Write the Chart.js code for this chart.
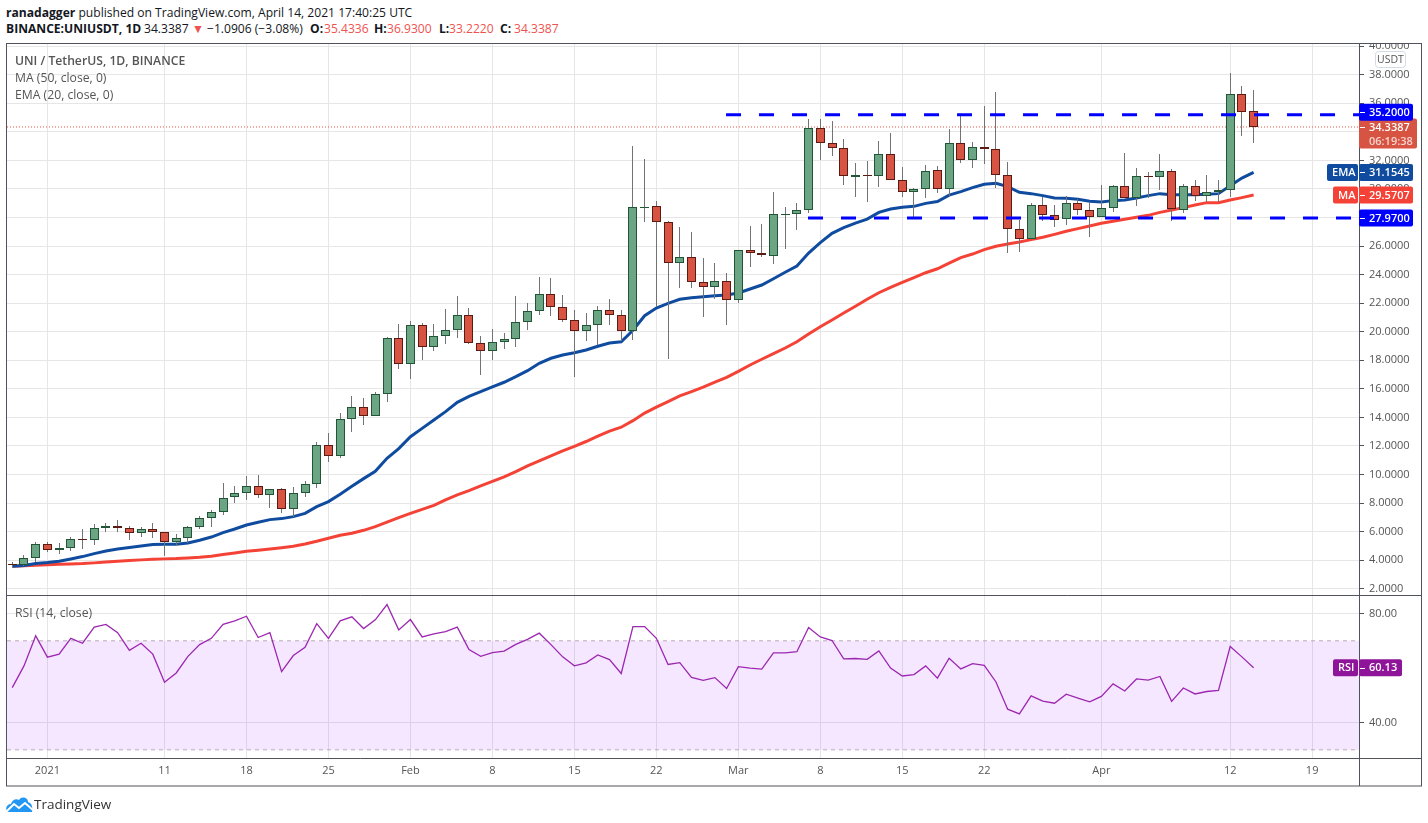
<!DOCTYPE html>
<html>
<head>
<meta charset="utf-8">
<title>UNI / TetherUS</title>
<script src="https://cdn.jsdelivr.net/npm/chart.js@4/dist/chart.umd.min.js"></script>
<style>
  html, body { margin: 0; padding: 0; background: #fff; }
  body { width: 1428px; height: 823px; position: relative; overflow: hidden; font-family: "Open Sans", sans-serif; }
  canvas { position: absolute; left: 0; top: 0; }
  .t { position: absolute; white-space: nowrap; line-height: 16px; font-size: 12.1px; color: #131722; z-index: 3; }
  .r { color: #ef5350; }
  .g { color: #555; font-size: 12.2px; }
  #strip { position: absolute; left: 0; top: 0; width: 1428px; height: 43px; background: #fff; z-index: 2; }
  #logo { position: absolute; left: 6px; top: 796px; z-index: 3; }
</style>
</head>
<body>
<canvas id="chart" width="1428" height="823"></canvas>
<div id="strip"></div>
<div class="t" style="left:6px;top:5px"><b>ranadagger</b> published on TradingView.com, April 14, 2021 17:40:25 UTC</div>
<div class="t" style="left:6px;top:21px"><b>BINANCE:UNIUSDT, 1D</b></div>
<div class="t" style="left:144px;top:21px">34.3387</div>
<div class="t r" style="left:192px;top:21px">▼</div>
<div class="t" style="left:207px;top:21px">−1.0906 (−3.08%)</div>
<div class="t" style="left:310px;top:21px"><b>O:</b></div>
<div class="t r" style="left:324px;top:21px">35.4336</div>
<div class="t" style="left:374px;top:21px"><b>H:</b></div>
<div class="t r" style="left:387px;top:21px">36.9300</div>
<div class="t" style="left:439px;top:21px"><b>L:</b></div>
<div class="t r" style="left:449px;top:21px">33.2220</div>
<div class="t" style="left:500px;top:21px"><b>C:</b></div>
<div class="t r" style="left:514px;top:21px">34.3387</div>
<div class="t g" style="left:15px;top:53px;font-weight:600">UNI / TetherUS, 1D, BINANCE</div>
<div class="t g" style="left:15px;top:70px">MA (50, close, 0)</div>
<div class="t g" style="left:15px;top:87px">EMA (20, close, 0)</div>
<div class="t g" style="left:15px;top:605px">RSI (14, close)</div>
<svg id="logo" width="27" height="17" viewBox="0 0 27 17">
  <path d="M1 16 C-1 12 1 8 5 8 C6 4 10 2 13 4 C15 0 22 1 22 6 C26 7 27 12 26 16 Z" fill="#2196f3"/>
  <path d="M0 16 L8 8 L13 12 L19 7 L27 14" fill="none" stroke="#fff" stroke-width="2"/>
</svg>
<div class="t" style="left:34px;top:796px;font-size:13.5px;color:#333">TradingView</div>
<script>
// days since Dec 29 2020, one candle a day
var opens = [
  3.72,3.64,4.15,5.13,4.69,4.85,5.48,5.41,6.25,6.39,
  6.25,5.9,6.16,5.97,5.27,5.55,6.32,6.95,7.37,8.4,
  8.7,9.2,8.57,8.98,7.58,8.7,9.33,12.07,11.3,13.89,
  14.73,14.1,15.64,19.56,17.74,20.47,18.93,19.7,20.12,21.17,
  19.21,18.65,19.28,19.49,20.68,21.45,22.64,21.73,20.82,20.05,
  20.47,21.52,21.17,20.05,28.73,28.8,27.68,24.81,25.23,23.48,
  23.13,23.55,22.22,25.72,25.51,25.3,28.24,28.24,28.52,34.29,
  33.22,32.87,30.81,30.97,30.9,32.45,30.62,29.78,30.0,31.32,
  30.0,33.21,32.02,32.93,32.79,30.97,27.19,26.49,28.87,28.17,
  27.89,29.01,28.52,28.03,28.66,30.2,29.36,30.9,30.83,31.25,
  28.52,30.2,29.5,29.78,29.92,36.65,35.4336
];
var highs = [
  3.87,4.39,5.3,5.27,5.2,5.65,6.2,6.56,6.63,6.84,
  6.39,6.32,6.6,5.99,5.83,6.39,7.1,7.5,9.43,9.22,
  9.92,9.99,9.0,9.05,9.15,9.57,12.3,12.93,14.33,15.52,
  15.38,15.8,19.65,20.56,20.77,20.63,20.56,21.61,22.52,21.68,
  19.72,20.21,19.93,22.52,22.03,23.86,23.78,22.59,21.54,21.33,
  21.82,22.31,21.54,33.03,32.12,29.18,27.75,27.36,27.0,25.16,
  24.81,24.13,25.75,27.43,27.57,29.81,28.76,29.04,34.92,34.92,
  34.78,33.52,31.84,31.98,33.38,33.94,31.56,30.06,31.7,31.63,
  34.22,35.18,33.31,35.83,36.81,31.91,27.82,29.04,29.43,28.87,
  29.5,29.29,29.01,30.3,30.3,32.54,31.49,31.21,32.47,31.42,
  30.37,30.65,30.98,30.65,38.14,37.23,36.93
];
var lows = [
  3.5,3.6,3.87,4.55,4.46,4.62,4.81,5.09,5.95,6.0,
  5.39,5.6,5.53,4.3,4.97,5.23,6.16,6.3,7.14,7.98,
  8.24,8.38,7.63,7.28,7.0,8.45,9.08,10.85,11.13,13.0,
  13.44,14.08,15.05,17.37,16.67,17.99,18.63,19.12,19.58,19.12,
  16.99,18.04,18.77,18.95,20.1,21.19,21.12,20.66,16.8,19.33,
  19.09,20.49,19.33,19.44,27.66,21.71,18.07,23.04,23.04,21.05,
  22.27,20.45,21.99,24.51,25.21,24.72,25.77,27.1,28.29,32.0,
  32.28,30.25,29.46,29.11,30.16,30.6,29.46,27.96,29.39,29.69,
  29.41,31.79,31.44,31.72,30.04,25.49,25.56,26.47,27.73,27.31,
  27.45,28.17,26.61,28.01,28.36,29.34,28.83,29.36,29.92,27.73,
  28.29,29.18,29.08,29.08,29.46,33.73,33.222
];
var closes = [
  3.69,4.15,5.13,4.71,4.88,5.48,5.42,6.25,6.39,6.25,
  5.9,6.16,5.97,5.27,5.55,6.32,6.95,7.37,8.35,8.7,
  9.2,8.57,8.98,7.58,8.7,9.33,12.07,11.3,13.89,14.73,
  14.1,15.64,19.56,17.74,20.47,18.91,19.7,20.12,21.17,19.21,
  18.65,19.28,19.49,20.68,21.45,22.64,21.71,20.82,20.05,20.47,
  21.52,21.17,20.05,28.73,28.75,27.68,24.81,25.23,23.48,23.13,
  23.55,22.22,25.72,25.51,25.37,28.24,28.26,28.52,34.29,33.22,
  32.87,30.9,30.97,30.88,32.45,30.62,29.78,30.0,31.25,30.0,
  33.21,32.02,32.93,32.79,30.97,27.19,26.49,28.87,28.17,27.82,
  29.01,28.52,28.03,28.66,30.2,29.36,30.9,30.81,31.25,28.59,
  30.2,29.5,29.78,29.92,36.65,35.36,34.3387
];
var ema20 = [
  3.57,3.62,3.76,3.83,3.92,4.08,4.25,4.46,4.64,4.78,
  4.88,4.99,5.09,5.11,5.11,5.2,5.39,5.62,5.93,6.18,
  6.46,6.65,6.84,6.91,7.05,7.28,7.75,8.1,8.62,9.17,
  9.71,10.22,11.13,11.81,12.65,13.23,13.82,14.4,15.05,15.47,
  15.8,16.13,16.46,16.85,17.27,17.79,18.14,18.37,18.53,18.72,
  18.98,19.21,19.3,20.1,21.12,21.66,21.99,22.27,22.38,22.45,
  22.52,22.57,22.71,22.99,23.27,23.71,24.16,24.6,25.51,26.24,
  26.89,27.29,27.61,27.89,28.36,28.59,28.71,28.78,28.99,29.12,
  29.57,29.81,30.09,30.32,30.39,30.16,29.76,29.67,29.53,29.36,
  29.34,29.27,29.13,29.08,29.18,29.22,29.36,29.53,29.67,29.6,
  29.6,29.6,29.62,29.67,30.23,30.76,31.1545
];
var ma50 = [
  3.57,3.6,3.64,3.67,3.71,3.73,3.76,3.81,3.87,3.92,
  3.97,4.02,4.06,4.09,4.11,4.15,4.2,4.28,4.39,4.5,
  4.62,4.7,4.78,4.87,4.97,5.13,5.32,5.53,5.74,5.88,
  6.09,6.35,6.67,6.98,7.28,7.56,7.84,8.22,8.57,8.87,
  9.2,9.52,9.83,10.2,10.6,10.96,11.3,11.65,11.97,12.31,
  12.68,13.04,13.31,13.77,14.3,14.72,15.1,15.5,15.8,16.12,
  16.47,16.8,17.22,17.67,18.07,18.46,18.86,19.3,19.84,20.35,
  20.82,21.31,21.78,22.27,22.73,23.11,23.46,23.79,24.13,24.41,
  24.8,25.19,25.44,25.75,25.98,26.14,26.28,26.45,26.61,26.82,
  27.03,27.22,27.4,27.59,27.73,27.87,28.01,28.15,28.36,28.52,
  28.69,28.87,29.04,29.04,29.22,29.39,29.5707
];
var rsi14 = [
  52.8,60.8,71.8,64,65.1,70.9,69.1,75,76,73,
  66.5,69.1,65.1,54.8,58.2,64.3,68.6,70.9,76,77.3,
  79,71.2,73,58.7,64.6,67.6,76.3,70.9,77.3,78.8,
  74.5,77.7,83.3,74,77.8,71.4,72.5,73.4,75,66.8,
  64.3,65.7,66.2,68.7,70.5,72.8,68.6,64.1,60.8,61.9,
  64.8,63.1,58,75.2,75.2,70.9,61.3,62,56.6,55.5,
  56.5,52.5,60.5,60,59.6,65.6,65.6,66,74.9,71.4,
  70.1,63.4,63.5,63.2,66.3,60,57.1,57.6,60.8,56.3,
  63.6,59.7,61.6,61,54.9,44.9,43.2,49.8,47.9,47.1,
  50.4,49,47.6,49.6,54.2,51.6,56,55.6,56.9,47.8,
  52.7,50.5,51.4,51.8,67.9,64.1,60.13
];
var priceTicks = [2,4,6,8,10,12,14,16,18,20,22,24,26,28,30,32,34,36,38,40];
var rsiTicks = [40,80];
var timeTickDays = [3,13,20,27,34,41,48,55,62,69,76,83,93,104,111];
var timeTickLabels = ['2021','11','18','25','Feb','8','15','22','Mar','8','15','22','Apr','12','19'];
var resistance = 35.2;
var support = 27.97;
var rsiUpper = 70;
var rsiLower = 30;

var xMin = -0.45, xMax = 115;
var last = closes.length - 1;
var upColor = '#6ba583', downColor = '#d75442';
var upBorder = '#225437', downBorder = '#5b1a13';
var font = '"Open Sans", sans-serif';

function series(arr) {
  return arr.map(function (v, i) { return {x: i, y: v}; });
}
function hline(v, from) {
  return [{x: from, y: v}, {x: xMax, y: v}];
}
function isUp(i) { return closes[i] >= opens[i]; }

// keep candles crisp, still placed by the scales
var snapBars = {
  id: 'snapBars',
  beforeDatasetsDraw: function (chart) {
    chart.data.datasets.forEach(function (ds, k) {
      if (ds.type !== 'bar') return;
      chart.getDatasetMeta(k).data.forEach(function (el) {
        el.x = Math.floor(el.x) + 0.5;
        var top = Math.round(el.y), bottom = Math.round(el.base);
        if (top === bottom) bottom = top + 1;
        el.y = top;
        el.base = bottom;
      });
    });
  }
};

function tag(ctx, x0, x1, y0, y1, bg) {
  ctx.fillStyle = bg;
  ctx.beginPath();
  ctx.roundRect(x0, y0, x1 - x0, y1 - y0, 2);
  ctx.fill();
}
function axisTag(ctx, yc, right, bg, text, sideText, sideLeft) {
  var y0 = yc - 8.5, y1 = yc + 8.5, ax = 1359;
  tag(ctx, ax, right, y0, y1, bg);
  ctx.fillStyle = '#fff';
  ctx.fillRect(ax + 1, Math.round(yc), 5, 1);
  ctx.font = '600 11px ' + font;
  ctx.textAlign = 'left';
  ctx.textBaseline = 'middle';
  ctx.fillText(text, 1369, yc + 0.5);
  if (sideText) {
    tag(ctx, sideLeft, ax - 1, y0, y1, bg);
    ctx.fillStyle = '#fff';
    ctx.fillText(sideText, sideLeft + 5, yc + 0.5);
  }
}

var overlays = {
  id: 'overlays',
  afterDraw: function (chart) {
    var ctx = chart.ctx, p = chart.scales.price, r = chart.scales.rsi;
    ctx.save();
    // pane frame
    ctx.strokeStyle = '#50535e';
    ctx.lineWidth = 1;
    ctx.strokeRect(6.5, 43.5, 1415, 742.5);
    ctx.beginPath();
    ctx.moveTo(1359.5, 43.5); ctx.lineTo(1359.5, 786);
    ctx.moveTo(6.5, 595.5); ctx.lineTo(1421.5, 595.5);
    ctx.moveTo(6.5, 758.5); ctx.lineTo(1421.5, 758.5);
    ctx.stroke();

    // currency chip
    ctx.fillStyle = '#fff';
    ctx.strokeStyle = '#d5d8e5';
    ctx.beginPath();
    ctx.roundRect(1375.5, 51.5, 30, 16, 3);
    ctx.fill();
    ctx.stroke();
    ctx.fillStyle = '#555';
    ctx.font = '10.5px ' + font;
    ctx.textAlign = 'center';
    ctx.textBaseline = 'middle';
    ctx.fillText('USDT', 1390.5, 60);

    // price tags, the first one sits a little above its line as in the original
    var lastY = p.getPixelForValue(closes[last]);
    tag(ctx, 1359, 1417, lastY - 8.5, lastY + 21.5, downColor);
    ctx.fillStyle = '#fff';
    ctx.fillRect(1360, Math.round(lastY), 5, 1);
    ctx.font = '600 11px ' + font;
    ctx.textAlign = 'left';
    ctx.textBaseline = 'middle';
    ctx.fillText(closes[last].toFixed(4), 1369, lastY + 0.5);
    ctx.fillStyle = 'rgba(255,255,255,0.75)';
    ctx.fillText('06:19:38', 1369, lastY + 14.5);

    axisTag(ctx, p.getPixelForValue(resistance) - 2.5, 1413, '#0000ff', resistance.toFixed(4));
    axisTag(ctx, p.getPixelForValue(ema20[last]), 1413, '#0f4c9f', ema20[last].toFixed(4), 'EMA', 1327);
    axisTag(ctx, p.getPixelForValue(ma50[last]), 1413, '#f44336', ma50[last].toFixed(4), 'MA', 1333);
    axisTag(ctx, p.getPixelForValue(support), 1413, '#0000ff', support.toFixed(4));
    axisTag(ctx, r.getPixelForValue(rsi14[last]), 1402, '#8e1599', rsi14[last].toFixed(2), 'RSI', 1333);
    ctx.restore();
  }
};

var wickData = series(highs).map(function (d, i) { return {x: i, y: [lows[i], highs[i]]}; });
var bodyData = series(opens).map(function (d, i) { return {x: i, y: [opens[i], closes[i]]}; });

new Chart(document.getElementById('chart'), {
  type: 'bar',
  plugins: [snapBars, overlays],
  data: {
    datasets: [
      {type: 'line', data: hline(rsiUpper, xMin), yAxisID: 'rsi', order: 12, borderColor: '#b9aabb', borderWidth: 1,
        borderDash: [4, 4], pointRadius: 0, fill: {target: '+1', above: 'rgba(153,21,255,0.1)', below: 'rgba(153,21,255,0.1)'}},
      {type: 'line', data: hline(rsiLower, xMin), yAxisID: 'rsi', order: 11, borderColor: '#b9aabb', borderWidth: 1,
        borderDash: [4, 4], pointRadius: 0},
      {type: 'line', data: series(rsi14), yAxisID: 'rsi', order: 10, borderColor: '#9c27b0', borderWidth: 1.3, pointRadius: 0},
      {type: 'line', data: hline(closes[last], xMin), yAxisID: 'price', order: 9, borderColor: '#e8553f', borderWidth: 1,
        borderDash: [1, 2], pointRadius: 0},
      {type: 'line', data: series(ma50), yAxisID: 'price', order: 8, borderColor: '#f44336', borderWidth: 3, pointRadius: 0},
      {type: 'line', data: series(ema20), yAxisID: 'price', order: 7, borderColor: '#0f4c9f', borderWidth: 3, pointRadius: 0},
      {type: 'bar', data: wickData, yAxisID: 'price', order: 5, grouped: false, barThickness: 1, inflateAmount: 0,
        backgroundColor: '#737375', borderWidth: 0},
      {type: 'bar', data: bodyData, yAxisID: 'price', order: 4, grouped: false, barThickness: 9, inflateAmount: 0, borderSkipped: false,
        backgroundColor: closes.map(function (c, i) { return isUp(i) ? upColor : downColor; }),
        borderColor: closes.map(function (c, i) { return isUp(i) ? upBorder : downBorder; }),
        borderWidth: 1},
      {type: 'line', data: hline(resistance, 60.95), yAxisID: 'price', order: 1, borderColor: '#0000ff', borderWidth: 3,
        borderDash: [15, 18], pointRadius: 0},
      {type: 'line', data: hline(support, 67.95), yAxisID: 'price', order: 1, borderColor: '#0000ff', borderWidth: 3,
        borderDash: [15, 18], pointRadius: 0}
    ]
  },
  options: {
    responsive: false,
    animation: false,
    layout: {padding: {left: 7, right: 7, top: 43, bottom: 37}},
    plugins: {legend: {display: false}, tooltip: {enabled: false}, title: {display: false}},
    scales: {
      x: {
        type: 'linear', min: xMin, max: xMax, offset: false,
        grid: {color: '#e6e6e6', drawTicks: false, offset: false},
        border: {display: false},
        afterBuildTicks: function (s) { s.ticks = timeTickDays.map(function (d) { return {value: d}; }); },
        afterFit: function (s) { s.height = 28; },
        ticks: {
          autoSkip: false, maxRotation: 0, padding: 6, color: '#555', font: {family: font, size: 11},
          callback: function (v) { return timeTickLabels[timeTickDays.indexOf(v)]; }
        }
      },
      price: {
        type: 'linear', position: 'right', stack: 'panes', stackWeight: 552, weight: 0,
        min: 1.56, max: 40.22,
        grid: {color: '#e6e6e6', tickColor: '#50535e', tickLength: 5},
        border: {display: false},
        afterBuildTicks: function (s) { s.ticks = priceTicks.map(function (v) { return {value: v}; }); },
        afterFit: function (s) { s.width = 62; },
        ticks: {
          autoSkip: false, padding: 5, color: '#555', font: {family: font, size: 11},
          callback: function (v) { return v.toFixed(4); }
        }
      },
      rsi: {
        type: 'linear', position: 'right', stack: 'panes', stackWeight: 163, weight: 1,
        min: 27, max: 86.8,
        grid: {color: '#e6e6e6', tickColor: '#50535e', tickLength: 5},
        border: {display: false},
        afterBuildTicks: function (s) { s.ticks = rsiTicks.map(function (v) { return {value: v}; }); },
        afterFit: function (s) { s.width = 62; },
        ticks: {
          autoSkip: false, padding: 5, color: '#555', font: {family: font, size: 11},
          callback: function (v) { return v.toFixed(2); }
        }
      }
    }
  }
});
</script>
</body>
</html>
